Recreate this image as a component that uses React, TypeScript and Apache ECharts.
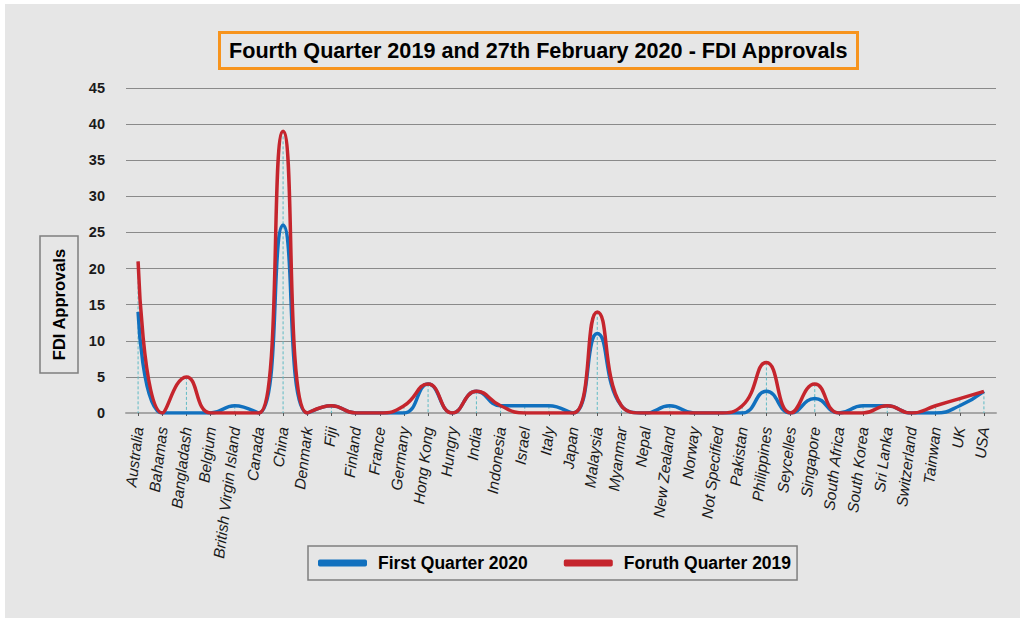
import React, { useEffect, useRef } from "react";
import * as echarts from "echarts";

const categories = [
  "Australia", "Bahamas", "Bangladash", "Belgium", "British Virgin Island", "Canada",
  "China", "Denmark", "Fiji", "Finland", "France", "Germany", "Hong Kong", "Hungry",
  "India", "Indonesia", "Israel", "Italy", "Japan", "Malaysia", "Myanmar", "Nepal",
  "New Zealand", "Norway", "Not Specified", "Pakistan", "Philippines", "Seycelles",
  "Singapore", "South Africa", "South Korea", "Sri Lanka", "Switzerland", "Tainwan",
  "UK", "USA",
];

const firstQuarter2020 = [
  14, 0, 0, 0, 1, 0, 26, 0, 1, 0, 0, 0, 4, 0, 3, 1, 1, 1, 0, 11, 1, 0, 1, 0, 0, 0, 3, 0,
  2, 0, 1, 1, 0, 0, 1, 3,
];

const fourthQuarter2019 = [
  21, 0, 5, 0, 0, 0, 39, 0, 1, 0, 0, 1, 4, 0, 3, 1, 0, 0, 0, 14, 1, 0, 0, 0, 0, 1, 7, 0,
  4, 0, 0, 1, 0, 1, 2, 3,
];

const seriesNames = ["First Quarter 2020", "Foruth Quarter 2019"];
const titleText = "Fourth Quarter 2019 and 27th February 2020 - FDI Approvals";
const yAxisTitle = "FDI Approvals";
const yMin = 0;
const yMax = 45;
const yInterval = 5;

const FONT = "'Liberation Sans', Arial, sans-serif";

export default function App() {
  const ref = useRef<HTMLDivElement>(null);

  useEffect(() => {
    document.body.style.margin = "0";
    if (!ref.current) return;
    const chart = echarts.init(ref.current, null, { renderer: "svg" });

    const dropData = categories.map((_, i) => [
      i,
      Math.max(firstQuarter2020[i], fourthQuarter2019[i]),
    ]);

    chart.setOption({
      animation: false,
      backgroundColor: "#e6e6e6",
      title: {
        text: titleText,
        left: 214,
        top: 28,
        padding: [6, 10],
        borderWidth: 3,
        borderColor: "#f7941d",
        textStyle: {
          fontFamily: FONT,
          fontWeight: "bold",
          fontSize: 21.6,
          color: "#000000",
          lineHeight: 25,
        },
      },
      legend: {
        data: seriesNames,
        left: 303,
        top: 542,
        padding: [8, 6, 8, 10],
        borderWidth: 1.5,
        borderColor: "#7f7f7f",
        itemWidth: 49,
        itemHeight: 7,
        itemGap: 36,
        icon: "roundRect",
        textStyle: {
          fontFamily: FONT,
          fontWeight: "bold",
          fontSize: 17.5,
          color: "#000000",
          padding: [0, 0, 0, 6],
        },
      },
      grid: {
        left: 121,
        right: 24,
        top: 84,
        bottom: 205,
        containLabel: false,
      },
      xAxis: {
        type: "category",
        data: categories,
        boundaryGap: true,
        axisLine: { show: true, lineStyle: { color: "#a6a6a6", width: 2 } },
        axisTick: {
          show: true,
          alignWithLabel: true,
          length: 3,
          lineStyle: { color: "#595959" },
        },
        axisLabel: {
          interval: 0,
          rotate: 83,
          margin: 14,
          fontFamily: FONT,
          fontStyle: "italic",
          fontSize: 15.5,
          color: "#1a1a1a",
        },
        splitLine: { show: false },
      },
      yAxis: {
        type: "value",
        min: yMin,
        max: yMax,
        interval: yInterval,
        axisLine: { show: false },
        axisTick: { show: false },
        axisLabel: {
          margin: 21,
          fontFamily: FONT,
          fontWeight: "bold",
          fontSize: 14.5,
          color: "#1a1a1a",
        },
        splitLine: { show: true, lineStyle: { color: "#8a8a8a", width: 1.2 } },
      },
      graphic: [
        {
          type: "rect",
          shape: { x: 35, y: 232, width: 38, height: 137 },
          style: { fill: "none", stroke: "#7f7f7f", lineWidth: 1.5 },
          silent: true,
        },
        {
          type: "text",
          x: 54,
          y: 300.5,
          rotation: Math.PI / 2,
          style: {
            text: yAxisTitle,
            fontFamily: FONT,
            fontWeight: "bold",
            fontSize: 16.5,
            fill: "#000000",
            align: "center",
            verticalAlign: "middle",
          },
          silent: true,
        },
      ],
      series: [
        {
          type: "custom",
          name: "dropLines",
          silent: true,
          z: 1,
          data: dropData,
          renderItem: (params: any, api: any) => {
            const top = api.coord([api.value(0), api.value(1)]);
            const base = api.coord([api.value(0), 0]);
            return {
              type: "line",
              shape: { x1: top[0], y1: top[1], x2: base[0], y2: base[1] },
              style: { stroke: "#5fbac4", lineWidth: 1, lineDash: [3, 2] },
            };
          },
        },
        {
          type: "line",
          name: seriesNames[0],
          data: firstQuarter2020,
          smooth: true,
          showSymbol: false,
          symbol: "none",
          z: 3,
          lineStyle: { color: "#1170be", width: 3.5 },
          itemStyle: { color: "#1170be" },
        },
        {
          type: "line",
          name: seriesNames[1],
          data: fourthQuarter2019,
          smooth: true,
          showSymbol: false,
          symbol: "none",
          z: 4,
          lineStyle: { color: "#c5252d", width: 3.5 },
          itemStyle: { color: "#c5252d" },
        },
      ],
    });

    return () => chart.dispose();
  }, []);

  return (
    <div style={{ position: "relative", width: 1020, height: 618, background: "#ffffff", overflow: "hidden" }}>
      <div
        ref={ref}
        style={{ position: "absolute", left: 5, top: 4, width: 1015, height: 614 }}
      />
    </div>
  );
}
